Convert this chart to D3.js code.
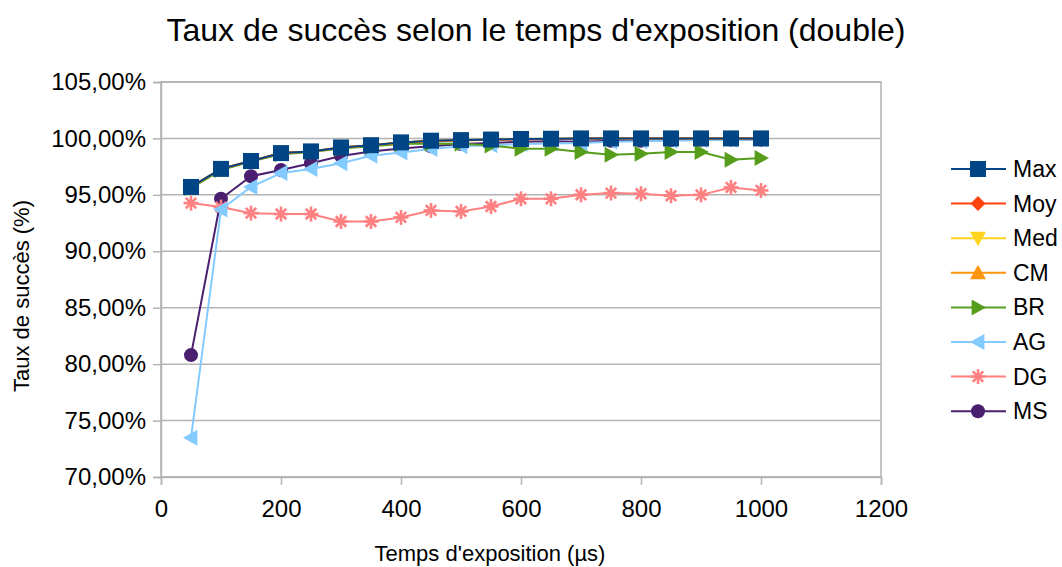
<!DOCTYPE html>
<html><head><meta charset="utf-8">
<script src="https://cdn.jsdelivr.net/npm/d3@7"></script>
<style>body{margin:0;background:#fff;} text{font-family:"Liberation Sans",Arial,sans-serif;fill:#000;}</style>
</head><body>
<svg id="c" width="1062" height="567"></svg>
<script>
const times = [50,100,150,200,250,300,350,400,450,500,550,600,650,700,750,800,850,900,950,1000];
const seriesNames = ["Max","Moy","Med","CM","BR","AG","DG","MS"];
const maxVals = [95.7,97.3,98.0,98.7,98.85,99.2,99.4,99.65,99.8,99.85,99.9,99.95,99.97,100,100,100,100,100,100,100];
const moyVals = [95.7,97.3,98.0,98.7,98.85,99.2,99.4,99.65,99.78,99.83,99.88,99.93,99.96,100,100,100,100,100,100,100];
const medVals = [95.7,97.3,98.0,98.7,98.85,99.2,99.4,99.65,99.8,99.85,99.9,99.95,99.97,100,100,100,100,100,100,100];
const cmVals  = [95.7,97.3,98.0,98.7,98.85,99.2,99.4,99.62,99.77,99.82,99.88,99.93,99.95,99.98,100,100,100,100,100,100];
const brVals  = [95.6,97.2,97.95,98.6,98.8,99.1,99.3,99.5,99.55,99.53,99.38,99.09,99.09,98.79,98.55,98.64,98.79,98.79,98.11,98.26];
const agVals  = [73.47,93.7,95.7,96.93,97.3,97.8,98.47,98.76,99.06,99.3,99.4,99.5,99.55,99.6,99.7,99.75,99.8,99.85,99.85,99.9];
const dgVals  = [94.27,93.92,93.38,93.3,93.3,92.64,92.64,93.0,93.62,93.53,93.97,94.65,94.65,95.01,95.16,95.1,94.92,95.0,95.66,95.39];
const msVals  = [80.8,94.65,96.65,97.2,97.8,98.45,98.85,99.1,99.3,99.5,99.6,99.7,99.75,99.7,99.8,99.8,99.85,99.9,99.9,99.9];
const yTicks = [70,75,80,85,90,95,100,105];
const xTicks = [0,200,400,600,800,1000,1200];

const colors = {Max:"#004586",Moy:"#ff420e",Med:"#ffd320",CM:"#ff950e",BR:"#579d1c",AG:"#83caff",DG:"#ff8080",MS:"#4b1f6f"};
const symbols = {Max:"square",Moy:"diamond",Med:"tri-down",CM:"tri-up",BR:"tri-right",AG:"tri-left",DG:"asterisk",MS:"circle"};
const data = {Max:maxVals,Moy:moyVals,Med:medVals,CM:cmVals,BR:brVals,AG:agVals,DG:dgVals,MS:msVals};

const svg = d3.select("#c");
const L=161,R=881,T=82,B=477;
const x = d3.scaleLinear().domain([0,1200]).range([L,R]);
const y = d3.scaleLinear().domain([70,105]).range([B,T]);

svg.append("g").selectAll("line").data(yTicks).join("line")
  .attr("x1",L).attr("x2",R).attr("y1",d=>y(d)).attr("y2",d=>y(d))
  .attr("stroke","#b3b3b3").attr("stroke-width",1.5);
svg.append("rect").attr("x",L).attr("y",T).attr("width",R-L).attr("height",B-T)
  .attr("fill","none").attr("stroke","#b3b3b3").attr("stroke-width",1.5);

const fmt = d=>d.toFixed(2).replace(".",",")+"%";
const ya = svg.append("g").attr("transform",`translate(${L},0)`)
  .call(d3.axisLeft(y).tickValues(yTicks).tickFormat(fmt).tickSize(8).tickPadding(7));
const xa = svg.append("g").attr("transform",`translate(0,${B})`)
  .call(d3.axisBottom(x).tickValues(xTicks).tickFormat(d3.format("d")).tickSize(8).tickPadding(15));
[ya,xa].forEach(a=>{
  a.select(".domain").attr("stroke","#b3b3b3").attr("stroke-width",1.5);
  a.selectAll(".tick line").attr("stroke","#b3b3b3").attr("stroke-width",1.5);
  a.selectAll(".tick text").style("font-size","24px").style("font-family","'Liberation Sans',Arial,sans-serif").attr("fill","#000");
});

function marker(g,name,cx,cy){
  const c=colors[name], sym=symbols[name];
  if(sym==="asterisk"){
    const r=7.5;
    const p=[[0,-r,0,r],[-r,0,r,0],[-r*0.7,-r*0.7,r*0.7,r*0.7],[-r*0.7,r*0.7,r*0.7,-r*0.7]];
    p.forEach(q=>g.append("line").attr("x1",cx+q[0]).attr("y1",cy+q[1]).attr("x2",cx+q[2]).attr("y2",cy+q[3]).attr("stroke",c).attr("stroke-width",2.6));
    return;
  }
  if(sym==="circle"){ g.append("circle").attr("cx",cx).attr("cy",cy).attr("r",7).attr("fill",c); return; }
  if(sym==="square"){ g.append("rect").attr("x",cx-8).attr("y",cy-8).attr("width",16).attr("height",16).attr("fill",c); return; }
  const r=8; let pts;
  if(sym==="diamond") pts=[[0,-7.5],[7.5,0],[0,7.5],[-7.5,0]];
  if(sym==="tri-up") pts=[[0,-r],[r,r*0.8],[-r,r*0.8]];
  if(sym==="tri-down") pts=[[0,r],[r,-r*0.8],[-r,-r*0.8]];
  if(sym==="tri-right") pts=[[r,0],[-r*0.8,-r],[-r*0.8,r]];
  if(sym==="tri-left") pts=[[-r,0],[r*0.8,-r],[r*0.8,r]];
  g.append("polygon").attr("points",pts.map(p=>[cx+p[0],cy+p[1]].join(",")).join(" ")).attr("fill",c);
}

const line = d3.line().x((d,i)=>x(times[i])).y(d=>y(d));
seriesNames.slice().reverse().forEach(name=>{
  const g=svg.append("g");
  g.append("path").attr("d",line(data[name])).attr("fill","none").attr("stroke",colors[name]).attr("stroke-width",2);
  data[name].forEach((v,i)=>marker(g,name,x(times[i]),y(v)));
});

const lg = svg.append("g");
seriesNames.forEach((name,i)=>{
  const cy = 169 + i*34.6;
  lg.append("line").attr("x1",951).attr("x2",1006).attr("y1",cy).attr("y2",cy).attr("stroke",colors[name]).attr("stroke-width",2);
  marker(lg,name,978,cy);
  lg.append("text").attr("x",1013).attr("y",cy+8).style("font-size","23px").text(name);
});

svg.append("text").attr("x",536).attr("y",41).attr("text-anchor","middle").style("font-size","32px").text("Taux de succès selon le temps d'exposition (double)");
svg.append("text").attr("x",490).attr("y",561).attr("text-anchor","middle").style("font-size","22px").text("Temps d'exposition (µs)");
svg.append("text").attr("transform","translate(29,296) rotate(-90)").attr("text-anchor","middle").style("font-size","22px").text("Taux de succès (%)");
</script>
</body></html>
